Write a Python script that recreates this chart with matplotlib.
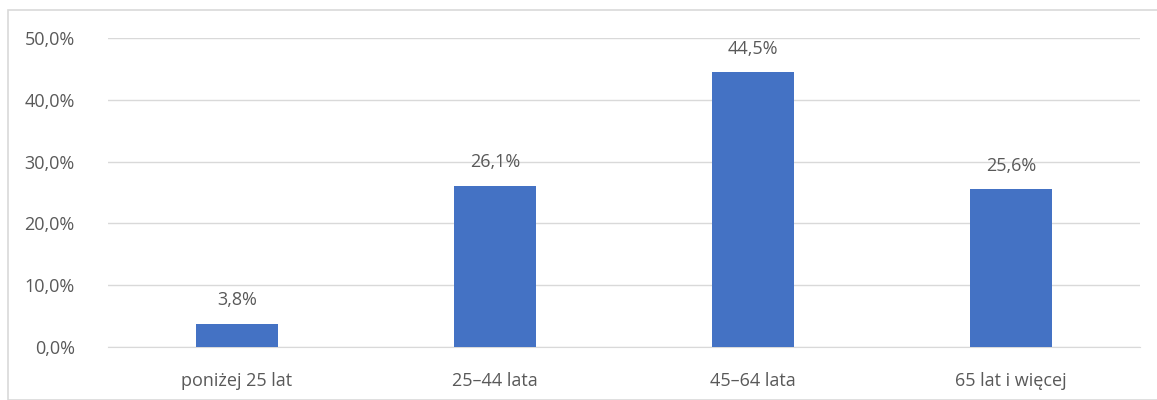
import matplotlib.pyplot as plt
from matplotlib.patches import Rectangle

categories = ["poniżej 25 lat", "25–44 lata", "45–64 lata", "65 lat i więcej"]
values = [3.8, 26.1, 44.5, 25.6]
yticks = [0, 10, 20, 30, 40, 50]

plt.rcParams['font.family'] = ['Open Sans', 'DejaVu Sans']
grey = "#595959"

fig = plt.figure(figsize=(11.57, 4.0), dpi=100)
ax = fig.add_axes([108/1157, 1 - 347/400, (1140 - 108)/1157, (347 - 38)/400])

# outer chart frame
fig.patches.append(Rectangle((8/1157, 0), 1.0, 1 - 10/400, transform=fig.transFigure,
                             fill=False, edgecolor="#D9D9D9", linewidth=1.2))

x = range(len(categories))
bars = ax.bar(x, values, width=0.315, color="#4472C4", zorder=3)
for b, v in zip(bars, values):
    ax.text(b.get_x() + b.get_width()/2, v + 2.3, f"{v:.1f}%".replace(".", ","),
            ha="center", va="bottom", fontsize=13, color=grey)

ax.set_xlim(-0.5, len(categories) - 0.5)
ax.set_ylim(0, 50)
ax.set_yticks(yticks)
ax.set_yticklabels([f"{t:.1f}%".replace(".", ",") for t in yticks], fontsize=13, color=grey)
ax.set_xticks(list(x))
ax.set_xticklabels(categories, fontsize=13, color=grey)
ax.grid(axis="y", color="#D9D9D9", linewidth=1, zorder=0)
for s in ["top", "right", "left"]:
    ax.spines[s].set_visible(False)
ax.spines["bottom"].set_color("#D9D9D9")
ax.tick_params(axis="x", length=0, pad=18)
ax.tick_params(axis="y", length=0, pad=24)

fig.savefig("out.png", dpi=100)
